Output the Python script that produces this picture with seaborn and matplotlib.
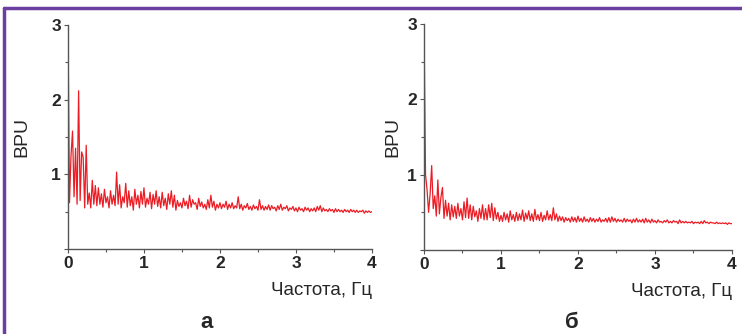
import numpy as np
import pandas as pd
import seaborn as sns
import matplotlib.pyplot as plt
from matplotlib.lines import Line2D

# frequency grid, Hz (0 .. 4 step 0.02)
freq = np.round(np.arange(0, 4.0001, 0.02), 2)

# spectrum, panel "а"
bpu_a = [
    3.00, 0.62, 1.25, 1.58, 0.70, 1.35, 0.60, 2.12, 0.65, 1.30,
    1.23, 0.55, 1.39, 0.60, 0.75, 0.55, 0.92, 0.60, 0.85, 0.58,
    0.82, 0.60, 0.74, 0.56, 0.80, 0.62, 0.70, 0.55, 0.78, 0.60,
    0.72, 0.58, 1.03, 0.60, 0.86, 0.55, 0.70, 0.62, 0.88, 0.56,
    0.78, 0.58, 0.70, 0.52, 0.80, 0.60, 0.72, 0.55, 0.77, 0.60,
    0.82, 0.56, 0.68, 0.60, 0.76, 0.54, 0.73, 0.60, 0.78, 0.57,
    0.70, 0.55, 0.76, 0.58, 0.68, 0.53, 0.74, 0.60, 0.78, 0.56,
    0.72, 0.52, 0.65, 0.57, 0.62, 0.55, 0.68, 0.58, 0.64, 0.54,
    0.72, 0.56, 0.66, 0.60, 0.62, 0.53, 0.68, 0.57, 0.63, 0.55,
    0.60, 0.53, 0.66, 0.55, 0.72, 0.56, 0.64, 0.52, 0.60, 0.55,
    0.62, 0.54, 0.60, 0.56, 0.64, 0.53, 0.60, 0.55, 0.62, 0.54,
    0.58, 0.55, 0.70, 0.54, 0.60, 0.52, 0.58, 0.55, 0.61, 0.53,
    0.57, 0.52, 0.59, 0.54, 0.57, 0.52, 0.66, 0.53, 0.58, 0.52,
    0.57, 0.53, 0.59, 0.52, 0.58, 0.54, 0.56, 0.51, 0.58, 0.53,
    0.60, 0.52, 0.56, 0.54, 0.58, 0.51, 0.55, 0.53, 0.57, 0.51,
    0.55, 0.50, 0.56, 0.52, 0.54, 0.50, 0.56, 0.52, 0.55, 0.50,
    0.54, 0.51, 0.55, 0.50, 0.57, 0.52, 0.58, 0.50, 0.55, 0.51,
    0.53, 0.50, 0.54, 0.51, 0.53, 0.49, 0.54, 0.50, 0.53, 0.50,
    0.52, 0.49, 0.53, 0.50, 0.52, 0.49, 0.53, 0.50, 0.52, 0.49,
    0.52, 0.49, 0.51, 0.50, 0.52, 0.48, 0.51, 0.49, 0.51, 0.49,
    0.50,
]

# spectrum, panel "б"
bpu_b = [
    3.00, 1.00, 0.80, 0.50, 0.75, 1.12, 0.55, 0.72, 0.45, 0.93,
    0.48, 0.70, 0.83, 0.42, 0.66, 0.45, 0.62, 0.40, 0.60, 0.44,
    0.58, 0.42, 0.62, 0.45, 0.55, 0.40, 0.64, 0.43, 0.69, 0.42,
    0.60, 0.40, 0.58, 0.44, 0.52, 0.38, 0.55, 0.42, 0.60, 0.40,
    0.55, 0.40, 0.60, 0.43, 0.62, 0.39, 0.56, 0.41, 0.50, 0.38,
    0.46, 0.38, 0.50, 0.40, 0.48, 0.37, 0.52, 0.40, 0.47, 0.38,
    0.50, 0.39, 0.48, 0.40, 0.53, 0.38, 0.49, 0.41, 0.52, 0.39,
    0.48, 0.38, 0.54, 0.40, 0.47, 0.39, 0.50, 0.38, 0.46, 0.40,
    0.52, 0.40, 0.47, 0.39, 0.56, 0.40, 0.48, 0.38, 0.45, 0.39,
    0.44, 0.37, 0.43, 0.39, 0.42, 0.37, 0.44, 0.38, 0.43, 0.37,
    0.45, 0.38, 0.42, 0.37, 0.44, 0.38, 0.41, 0.37, 0.43, 0.38,
    0.42, 0.37, 0.41, 0.38, 0.43, 0.37, 0.40, 0.38, 0.42, 0.37,
    0.43, 0.37, 0.44, 0.38, 0.42, 0.37, 0.41, 0.38, 0.40, 0.37,
    0.42, 0.37, 0.41, 0.38, 0.40, 0.36, 0.41, 0.37, 0.42, 0.37,
    0.40, 0.37, 0.41, 0.36, 0.42, 0.37, 0.40, 0.36, 0.41, 0.37,
    0.39, 0.36, 0.40, 0.37, 0.38, 0.36, 0.39, 0.37, 0.40, 0.36,
    0.38, 0.36, 0.39, 0.37, 0.38, 0.35, 0.40, 0.36, 0.38, 0.36,
    0.38, 0.36, 0.37, 0.36, 0.38, 0.35, 0.37, 0.36, 0.37, 0.35,
    0.38, 0.35, 0.39, 0.36, 0.37, 0.35, 0.37, 0.36, 0.36, 0.35,
    0.37, 0.35, 0.36, 0.35, 0.36, 0.35, 0.36, 0.34, 0.36, 0.35,
    0.35,
]

panel_labels = ['а', 'б']
x_ticks = [0, 1, 2, 3, 4]
y_ticks = [0, 1, 2, 3]
y_tick_labels = ['', '1', '2', '3']

sns.set_style('ticks')
plt.rcParams['font.family'] = ['Liberation Sans', 'DejaVu Sans']

fig = plt.figure(figsize=(7.42, 3.34), dpi=100)
ax_a = fig.add_axes([0.0916, 0.2545, 0.4097, 0.6705])
ax_b = fig.add_axes([0.5714, 0.2515, 0.4151, 0.6766])

panels = [(ax_a, bpu_a, panel_labels[0], 0.279, -0.125),
          (ax_b, bpu_b, panel_labels[1], 0.771, -0.075)]

for ax, vals, lab, lab_x, ylab_x in panels:
    df = pd.DataFrame({'freq': freq, 'bpu': vals})
    sns.lineplot(data=df, x='freq', y='bpu', ax=ax, color='#ec1c24',
                 linewidth=0.9)
    ax.set_xlim(0, 4)
    ax.set_ylim(0, 3)
    ax.set_xticks(x_ticks)
    ax.set_xticks([0.5, 1.5, 2.5, 3.5], minor=True)
    ax.set_yticks(y_ticks)
    ax.set_yticklabels(y_tick_labels)
    ax.set_yticks([0.5, 1.5, 2.5], minor=True)
    ax.tick_params(which='major', length=3, width=0.8, color='#555555',
                   labelsize=12.5, pad=2)
    ax.tick_params(which='minor', length=2, width=0.8, color='#555555')
    for t in ax.get_xticklabels() + ax.get_yticklabels():
        t.set_fontweight('bold')
    sns.despine(ax=ax)
    for s in ['left', 'bottom']:
        ax.spines[s].set_color('#555555')
        ax.spines[s].set_linewidth(1.0)
    ax.set_xlabel('Частота, Гц', fontsize=13.5, loc='right', labelpad=8)
    ax.set_ylabel('BPU', fontsize=14)
    ax.yaxis.set_label_coords(ylab_x, 0.5)
    fig.text(lab_x, 0.035, lab, fontsize=16, fontweight='bold',
             ha='center', va='center')

# frame lines of the figure
border = '#6b3fa0'
fig.add_artist(Line2D([0.006, 0.006], [0, 0.977], transform=fig.transFigure,
                      color=border, linewidth=2.5))
fig.add_artist(Line2D([0.006, 1.0], [0.977, 0.977], transform=fig.transFigure,
                      color=border, linewidth=2.5))

fig.savefig('out.png', dpi=100)
